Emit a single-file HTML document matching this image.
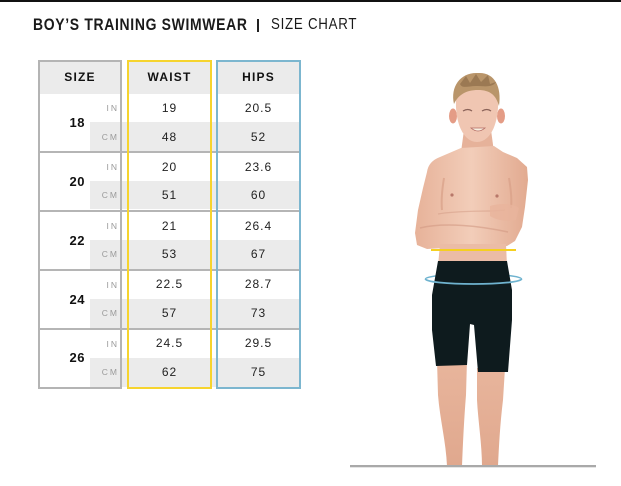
<!DOCTYPE html>
<html>
<head>
<meta charset="utf-8">
<style>
html,body{margin:0;padding:0;background:#fff;}
body{width:621px;height:486px;position:relative;overflow:hidden;font-family:"Liberation Sans",Arial,sans-serif;}
.abs{position:absolute;}
.topbar{left:0;top:0;width:621px;height:2px;background:#111;}
.ti{white-space:nowrap;color:#1a1a1a;height:20px;line-height:20px;transform-origin:0 0;}
.hdr{background:#ebebeb;}
.band{background:#ebebeb;}
.hl{background:#b5b5b5;height:2px;left:38px;width:262px;}
.box{box-sizing:border-box;border:2px solid #b4b4b4;}
.t{height:20px;line-height:20px;text-align:center;color:#222;font-size:12px;letter-spacing:1px;}
.h{height:20px;line-height:20px;text-align:center;color:#111;font-size:12px;font-weight:bold;letter-spacing:1.2px;}
.u{height:12px;line-height:12px;text-align:right;color:#9a9a9a;font-size:8.5px;letter-spacing:2px;}
.sz{height:20px;line-height:20px;text-align:right;color:#111;font-size:13px;font-weight:bold;letter-spacing:0.5px;}
</style>
</head>
<body>
<div class="abs topbar"></div>
<div class="abs ti" style="left:33px;top:15px;font-size:16.5px;font-weight:bold;letter-spacing:0.8px;transform:scaleX(0.845);">BOY’S TRAINING SWIMWEAR</div>
<div class="abs" style="left:257px;top:19px;width:1.5px;height:13px;background:#222;"></div>
<div class="abs ti" style="left:271px;top:15px;font-size:16px;letter-spacing:0.9px;transform:scaleX(0.83);">SIZE CHART</div>

<!-- header backgrounds -->
<div class="abs hdr" style="left:38px;top:60px;width:83px;height:34px;"></div>
<div class="abs hdr" style="left:128px;top:60px;width:83px;height:34px;"></div>
<div class="abs hdr" style="left:217px;top:60px;width:83px;height:34px;"></div>

<!-- gray cm bands -->
<div class="abs band" style="left:90px;top:122px;width:210px;height:29px;"></div>
<div class="abs band" style="left:90px;top:181px;width:210px;height:28px;"></div>
<div class="abs band" style="left:90px;top:240px;width:210px;height:29px;"></div>
<div class="abs band" style="left:90px;top:299px;width:210px;height:29px;"></div>
<div class="abs band" style="left:90px;top:358px;width:210px;height:29px;"></div>

<!-- horizontal lines -->
<div class="abs hl" style="top:151px;"></div>
<div class="abs hl" style="top:210px;"></div>
<div class="abs hl" style="top:269px;"></div>
<div class="abs hl" style="top:328px;"></div>

<!-- boxes -->
<div class="abs box" style="left:38px;top:60px;width:84px;height:329px;border-color:#b4b4b4;"></div>
<div class="abs box" style="left:127px;top:60px;width:85px;height:329px;border-color:#f6d42e;"></div>
<div class="abs box" style="left:216px;top:60px;width:85px;height:329px;border-color:#7cb6cf;"></div>

<!-- headers -->
<div class="abs h" style="left:38px;top:67px;width:84px;">SIZE</div>
<div class="abs h" style="left:127px;top:67px;width:85px;">WAIST</div>
<div class="abs h" style="left:216px;top:67px;width:85px;">HIPS</div>

<!-- size labels -->
<div class="abs sz" style="left:50px;top:113px;width:35px;">18</div>
<div class="abs sz" style="left:50px;top:172px;width:35px;">20</div>
<div class="abs sz" style="left:50px;top:231px;width:35px;">22</div>
<div class="abs sz" style="left:50px;top:290px;width:35px;">24</div>
<div class="abs sz" style="left:50px;top:348px;width:35px;">26</div>

<!-- units -->
<div class="abs u" style="left:90px;top:102px;width:29px;">IN</div>
<div class="abs u" style="left:90px;top:131px;width:29px;">CM</div>
<div class="abs u" style="left:90px;top:161px;width:29px;">IN</div>
<div class="abs u" style="left:90px;top:189px;width:29px;">CM</div>
<div class="abs u" style="left:90px;top:220px;width:29px;">IN</div>
<div class="abs u" style="left:90px;top:248px;width:29px;">CM</div>
<div class="abs u" style="left:90px;top:279px;width:29px;">IN</div>
<div class="abs u" style="left:90px;top:307px;width:29px;">CM</div>
<div class="abs u" style="left:90px;top:338px;width:29px;">IN</div>
<div class="abs u" style="left:90px;top:366px;width:29px;">CM</div>

<!-- waist values -->
<div class="abs t" style="left:128px;top:98px;width:83px;">19</div>
<div class="abs t" style="left:128px;top:127px;width:83px;">48</div>
<div class="abs t" style="left:128px;top:157px;width:83px;">20</div>
<div class="abs t" style="left:128px;top:185px;width:83px;">51</div>
<div class="abs t" style="left:128px;top:216px;width:83px;">21</div>
<div class="abs t" style="left:128px;top:244px;width:83px;">53</div>
<div class="abs t" style="left:128px;top:274px;width:83px;">22.5</div>
<div class="abs t" style="left:128px;top:303px;width:83px;">57</div>
<div class="abs t" style="left:128px;top:333px;width:83px;">24.5</div>
<div class="abs t" style="left:128px;top:362px;width:83px;">62</div>

<!-- hips values -->
<div class="abs t" style="left:217px;top:98px;width:83px;">20.5</div>
<div class="abs t" style="left:217px;top:127px;width:83px;">52</div>
<div class="abs t" style="left:217px;top:157px;width:83px;">23.6</div>
<div class="abs t" style="left:217px;top:185px;width:83px;">60</div>
<div class="abs t" style="left:217px;top:216px;width:83px;">26.4</div>
<div class="abs t" style="left:217px;top:244px;width:83px;">67</div>
<div class="abs t" style="left:217px;top:274px;width:83px;">28.7</div>
<div class="abs t" style="left:217px;top:303px;width:83px;">73</div>
<div class="abs t" style="left:217px;top:333px;width:83px;">29.5</div>
<div class="abs t" style="left:217px;top:362px;width:83px;">75</div>

<!-- person illustration -->
<svg class="abs" style="left:0;top:0;" width="621" height="486" viewBox="0 0 621 486">
  <defs>
    <linearGradient id="sk" x1="0" y1="0" x2="1" y2="0">
      <stop offset="0" stop-color="#e7b299"/>
      <stop offset="0.5" stop-color="#f2cdb9"/>
      <stop offset="1" stop-color="#e2aa90"/>
    </linearGradient>
    <linearGradient id="lg" x1="0" y1="0" x2="0" y2="1">
      <stop offset="0" stop-color="#e8b59c"/>
      <stop offset="1" stop-color="#e0a88e"/>
    </linearGradient>
  </defs>
  <!-- legs -->
  <path d="M437,360 L467,360 L466,395 C464,420 463,442 462,466 L447,466 C446,442 440,420 438,395 Z" fill="url(#lg)"/>
  <path d="M477,368 L505,368 L503,400 C500,425 499,445 498,466 L482,466 C482,445 478,420 477,400 Z" fill="url(#lg)"/>
  <!-- neck -->
  <path d="M464,130 L491,130 L494,152 L461,152 Z" fill="#e6b29a"/>
  <!-- ears -->
  <ellipse cx="453" cy="116" rx="4" ry="7.5" fill="#e49c86"/>
  <ellipse cx="501" cy="116" rx="4" ry="7.5" fill="#e49c86"/>
  <!-- face -->
  <path d="M456,100 C455,124 464,142 477,142 C490,142 499,124 498,100 C498,84 456,84 456,100 Z" fill="#f0c6b2"/>
  <!-- hair -->
  <path d="M454,104 C450,86 461,72 478,73 C494,72 502,86 499,106 C496,95 490,90 478,90 C466,90 458,95 454,104 Z" fill="#b9956a"/>
  <path d="M460,84 L466,76 L470,83 L476,74 L481,82 L488,75 L490,84 L496,82 C492,88 484,86 476,86 C468,86 462,89 460,84 Z" fill="#8f6e4a" opacity="0.7"/>
  <!-- eyes, mouth -->
  <path d="M463,111 Q468,108 472,111" stroke="#8a6258" stroke-width="1.3" fill="none"/>
  <path d="M482,111 Q487,108 491,111" stroke="#8a6258" stroke-width="1.3" fill="none"/>
  <path d="M471,128 Q478,134 485,128 Z" fill="#f7efe0" stroke="#b36a62" stroke-width="0.8"/>
  <!-- upper body -->
  <path d="M461,148 L440,157 C432,160 428,165 427,172 L423,188 L418,210 L415,233 L417,245 L427,249 L467,247 L507,246 L515,241 L522,227 L525,207 L528,180 L527,167 L517,158 L503,152 L494,146 Z" fill="url(#sk)"/>
  <!-- trunk below arms -->
  <path d="M440,244 L506,244 L507,266 L438,266 Z" fill="#ebbca6"/>
  <!-- shading -->
  <path d="M444,178 C442,190 441,200 442,210" stroke="#d9a088" stroke-width="2" fill="none" opacity="0.7"/>
  <path d="M509,178 C511,190 512,200 511,208" stroke="#d9a088" stroke-width="2" fill="none" opacity="0.7"/>
  <path d="M420,228 C445,222 480,226 508,232" stroke="#d29a84" stroke-width="1.5" fill="none" opacity="0.6"/>
  <path d="M438,214 C460,210 490,212 505,210" stroke="#d29a84" stroke-width="1.2" fill="none" opacity="0.5"/>
  <path d="M490,206 C500,203 512,203 519,208 L516,220 C506,222 496,220 490,216 Z" fill="#e9b49c" opacity="0.8"/>
  <circle cx="452" cy="195" r="1.6" fill="#b8786a"/>
  <circle cx="497" cy="196" r="1.6" fill="#b8786a"/>
  <!-- waist measure line -->
  <rect x="431" y="249" width="85" height="2" fill="#f5d020"/>
  <!-- hip ring back -->
  <path d="M425.5,279 A48,5 0 0 1 521.5,279" stroke="#6fb3cf" stroke-width="1.5" fill="none"/>
  <!-- shorts -->
  <path d="M438,261 L507,261 L512,290 L512,320 L508,372 L478,372 L474,325 L470,324 L467,365 L436,366 L432,330 L432,295 Z" fill="#0e1b1e"/>
  <!-- hip ring front -->
  <path d="M425.5,279 A48,5 0 0 0 521.5,279" stroke="#6fb3cf" stroke-width="1.8" fill="none"/>
  <!-- floor -->
  <rect x="350" y="465" width="246" height="2.3" fill="#a9a9a9"/>
</svg>
</body>
</html>
